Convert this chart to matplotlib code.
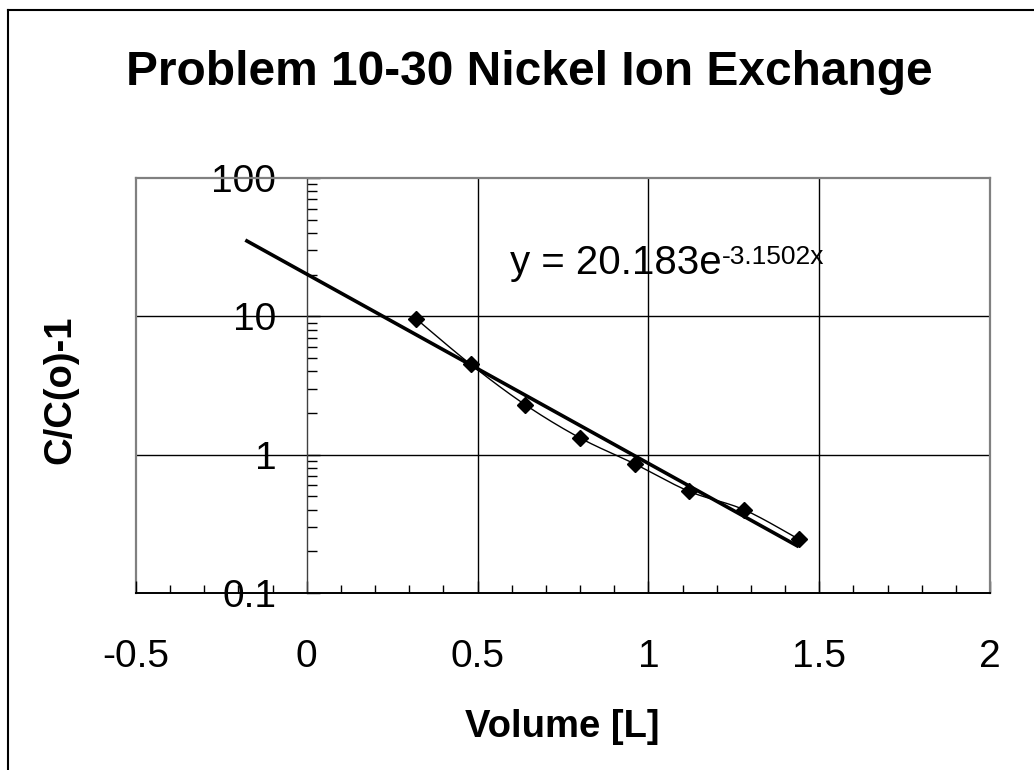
import numpy as np
import matplotlib
matplotlib.use("Agg")
import matplotlib.pyplot as plt
from matplotlib.lines import Line2D
from matplotlib.ticker import FixedLocator, NullFormatter, LogLocator

plt.rcParams['font.family'] = ['Liberation Sans', 'DejaVu Sans']

# ---- data ----
volume = [0.32, 0.48, 0.64, 0.80, 0.96, 1.12, 1.28, 1.44]
ratio = [9.6, 4.49, 2.29, 1.32, 0.857, 0.542, 0.40, 0.245]
fit_a = 20.183
fit_b = -3.1502
fit_range = [-0.18, 1.44]
x_ticks = [-0.5, 0, 0.5, 1, 1.5, 2]
x_tick_labels = ['-0.5', '0', '0.5', '1', '1.5', '2']
y_ticks = [0.1, 1, 10, 100]
y_tick_labels = ['0.1', '1', '10', '100']
title = 'Problem 10-30 Nickel Ion Exchange'
xlabel = 'Volume [L]'
ylabel = 'C/C(o)-1'

W, H = 1034, 770
fig = plt.figure(figsize=(W / 100, H / 100), dpi=100)
ax = fig.add_axes([136 / W, 1 - 593 / H, (990 - 136) / W, (593 - 178) / H])

ax.set_yscale('log')
ax.set_xlim(-0.5, 2)
ax.set_ylim(0.1, 100)

# gridlines
for gx in [0.5, 1, 1.5]:
    ax.axvline(gx, color='black', lw=1.0, zorder=1)
for gy in [1, 10]:
    ax.axhline(gy, color='black', lw=1.0, zorder=1)

# plot area border (gray)
for s in ['top', 'right']:
    ax.spines[s].set_color('#808080')
    ax.spines[s].set_linewidth(1.6)
ax.axvline(-0.5, color='#808080', lw=1.6, zorder=1, clip_on=False)

ax.spines['left'].set_position(('data', 0))
ax.spines['left'].set_color('#404040')
ax.spines['left'].set_linewidth(1.0)
ax.spines['bottom'].set_color('black')
ax.spines['bottom'].set_linewidth(1.4)

# trendline
xt = np.linspace(fit_range[0], fit_range[1], 200)
ax.plot(xt, fit_a * np.exp(fit_b * xt), color='black', lw=2.6, zorder=3,
        solid_capstyle='butt')

# smoothed data line (Bezier smoothing through the points)
px = np.array(volume)
py = np.log10(np.array(ratio))
xs, ys = [], []
n = len(px)
for i in range(n - 1):
    p0 = (px[max(i - 1, 0)], py[max(i - 1, 0)])
    p1 = (px[i], py[i])
    p2 = (px[i + 1], py[i + 1])
    p3 = (px[min(i + 2, n - 1)], py[min(i + 2, n - 1)])
    c1 = (p1[0] + (p2[0] - p0[0]) / 6, p1[1] + (p2[1] - p0[1]) / 6)
    c2 = (p2[0] - (p3[0] - p1[0]) / 6, p2[1] - (p3[1] - p1[1]) / 6)
    t = np.linspace(0, 1, 30)
    bx = (1 - t) ** 3 * p1[0] + 3 * (1 - t) ** 2 * t * c1[0] + 3 * (1 - t) * t ** 2 * c2[0] + t ** 3 * p2[0]
    by = (1 - t) ** 3 * p1[1] + 3 * (1 - t) ** 2 * t * c1[1] + 3 * (1 - t) * t ** 2 * c2[1] + t ** 3 * p2[1]
    xs.extend(bx)
    ys.extend(by)
ax.plot(xs, 10 ** np.array(ys), color='black', lw=1.0, zorder=4)
ax.plot(volume, ratio, linestyle='none', marker='D', markersize=8,
        color='black', zorder=5)

# ticks
ax.set_xticks(x_ticks)
ax.set_xticklabels(x_tick_labels)
ax.xaxis.set_minor_locator(FixedLocator(np.arange(-0.5, 2.01, 0.1)))
ax.tick_params(axis='x', which='major', direction='in', length=9, width=1,
               labelsize=28, pad=33)
ax.tick_params(axis='x', which='minor', direction='in', length=6, width=1)
ax.set_yticks(y_ticks)
ax.set_yticklabels(y_tick_labels)
ax.yaxis.set_minor_locator(LogLocator(base=10, subs=np.arange(2, 10)))
ax.yaxis.set_minor_formatter(NullFormatter())
ax.tick_params(axis='y', which='major', direction='in', length=9, width=1,
               labelsize=28, pad=22)
ax.tick_params(axis='y', which='minor', direction='in', length=7, width=1)
ax.tick_params(top=False, right=False)

# equation label
t1 = ax.text(0.595, 20.4, 'y = 20.183e', fontsize=29, va='baseline', ha='left', zorder=6)
ax.annotate('-3.1502x', xy=(1, 1), xycoords=t1, xytext=(0, -1),
            textcoords='offset points', fontsize=19, va='top', ha='left', zorder=6)

# titles
fig.text(0.512, 1 - 85 / H, title, fontsize=34.5, fontweight='bold',
         ha='center', va='baseline')
fig.text(562 / W, 1 - 737 / H, xlabel, fontsize=27.5, fontweight='bold',
         ha='center', va='baseline')
fig.text(60 / W, 1 - 390 / H, ylabel, fontsize=27.5, fontweight='bold',
         ha='center', va='center', rotation=90)

# chart frame
fig.add_artist(Line2D([8 / W, 8 / W], [0, 1 - 10 / H], transform=fig.transFigure,
                      color='black', lw=1.5))
fig.add_artist(Line2D([8 / W, 1], [1 - 10 / H, 1 - 10 / H], transform=fig.transFigure,
                      color='black', lw=1.5))

fig.savefig('out.png', dpi=100)
